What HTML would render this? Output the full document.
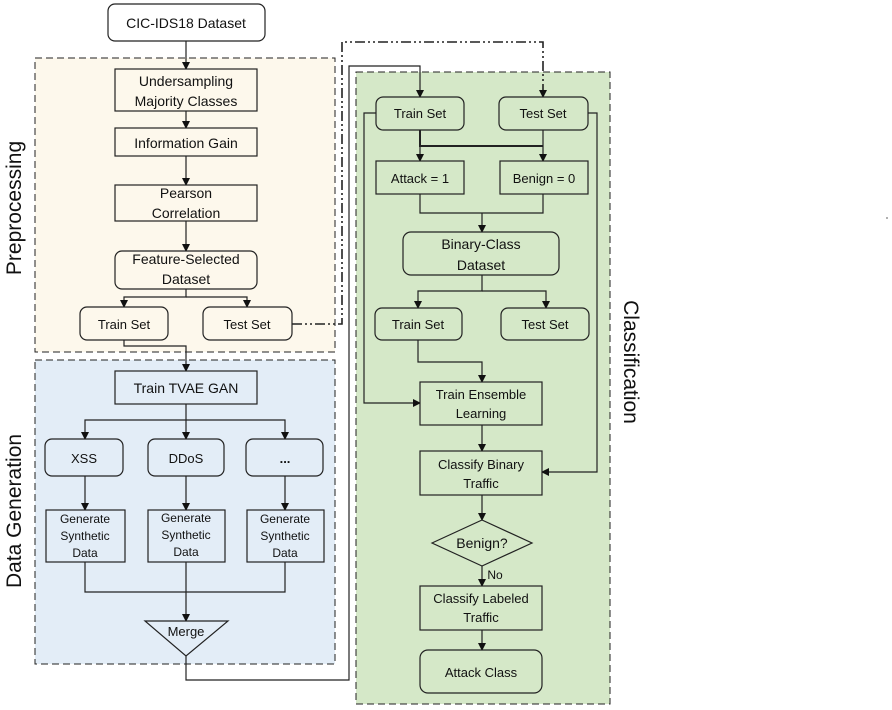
<!DOCTYPE html>
<html><head><style>body{margin:0;background:#fff}svg{display:block}text{font-family:"Liberation Sans",sans-serif;fill:#111}</style></head><body>
<svg width="892" height="710" viewBox="0 0 892 710" xmlns="http://www.w3.org/2000/svg">
<defs><marker id="a" markerWidth="8" markerHeight="8" refX="7" refY="4" orient="auto" markerUnits="userSpaceOnUse"><path d="M0,0 L8,4 L0,8z" fill="#111"/></marker></defs>
<rect x="35" y="58" width="300" height="294" fill="#fdf8ec" stroke="#222" stroke-dasharray="7,4"/>
<rect x="35" y="360" width="300" height="304" fill="#e3edf7" stroke="#222" stroke-dasharray="7,4"/>
<rect x="356" y="72" width="254" height="632" fill="#d5e8c8" stroke="#222" stroke-dasharray="7,4"/>
<circle cx="887" cy="218" r="1" fill="#999"/>
<text transform="translate(21,208) rotate(-90)" font-size="21" text-anchor="middle">Preprocessing</text>
<text transform="translate(21,511) rotate(-90)" font-size="21" text-anchor="middle">Data Generation</text>
<text transform="translate(624,362) rotate(90)" font-size="21" text-anchor="middle">Classification</text>
<g fill="none" stroke="#222" stroke-width="1.2">
<path d="M186,41V69" marker-end="url(#a)"/>
<path d="M186,111V128" marker-end="url(#a)"/>
<path d="M186,156V185" marker-end="url(#a)"/>
<path d="M186,221V251" marker-end="url(#a)"/>
<path d="M186,289V297H124V307" marker-end="url(#a)"/>
<path d="M186,297H247V307" marker-end="url(#a)"/>
<path d="M124,340V346H186V371" marker-end="url(#a)"/>
<path d="M186,404V420H85V439" marker-end="url(#a)"/>
<path d="M186,420V439" marker-end="url(#a)"/>
<path d="M186,420H285V439" marker-end="url(#a)"/>
<path d="M85,476V510" marker-end="url(#a)"/>
<path d="M186,476V510" marker-end="url(#a)"/>
<path d="M285,476V510" marker-end="url(#a)"/>
<path d="M85,562V592H285V562"/>
<path d="M186,562V621" marker-end="url(#a)"/>
<path d="M186,656V680H349V66H420V97" marker-end="url(#a)"/>
<path d="M292,324H342V42H543V97" stroke-width="1.6" stroke-dasharray="10,3,2,3,2,3" marker-end="url(#a)"/>
<path d="M420,130V146H543" stroke-width="2"/>
<path d="M420,146V161" marker-end="url(#a)"/>
<path d="M543,130V161" marker-end="url(#a)"/>
<path d="M420,194V213H543V194"/>
<path d="M482,213V232" marker-end="url(#a)"/>
<path d="M482,275V291H418V308" marker-end="url(#a)"/>
<path d="M482,291H546V308" marker-end="url(#a)"/>
<path d="M418,340V362H482V382" marker-end="url(#a)"/>
<path d="M376,113H364V403H420" marker-end="url(#a)"/>
<path d="M588,113H597V472H542" marker-end="url(#a)"/>
<path d="M482,425V451" marker-end="url(#a)"/>
<path d="M482,495V520" marker-end="url(#a)"/>
<path d="M482,566V586" marker-end="url(#a)"/>
<path d="M482,630V650" marker-end="url(#a)"/>
</g>
<g stroke="#222" stroke-width="1.2">
<rect x="108" y="4" width="157" height="37" rx="7" fill="#fff"/>
<g fill="#fdf8ec">
<rect x="115" y="69" width="142" height="42"/>
<rect x="115" y="128" width="142" height="28"/>
<rect x="115" y="185" width="142" height="36"/>
<rect x="115" y="251" width="142" height="38" rx="7"/>
<rect x="80" y="307" width="88" height="33" rx="7"/>
<rect x="203" y="307" width="89" height="33" rx="7"/>
</g>
<g fill="#e3edf7">
<rect x="115" y="371" width="142" height="33"/>
<rect x="45" y="439" width="78" height="37" rx="7"/>
<rect x="148" y="439" width="76" height="37" rx="7"/>
<rect x="246" y="439" width="77" height="37" rx="7"/>
<rect x="46" y="510" width="79" height="52"/>
<rect x="148" y="510" width="77" height="52"/>
<rect x="247" y="510" width="77" height="52"/>
<path d="M145,621H228L186,656Z"/>
</g>
<g fill="#d5e8c8">
<rect x="376" y="97" width="88" height="33" rx="7"/>
<rect x="499" y="97" width="89" height="33" rx="7"/>
<rect x="376" y="161" width="88" height="33"/>
<rect x="500" y="161" width="88" height="33"/>
<rect x="403" y="232" width="156" height="43" rx="8"/>
<rect x="375" y="308" width="87" height="32" rx="7"/>
<rect x="501" y="308" width="88" height="32" rx="7"/>
<rect x="420" y="382" width="122" height="43"/>
<rect x="420" y="451" width="122" height="44"/>
<path d="M432,543L482,520L532,543L482,566Z"/>
<rect x="420" y="586" width="122" height="44"/>
<rect x="420" y="650" width="122" height="43" rx="8"/>
</g>
</g>
<g font-size="14" text-anchor="middle">
<text x="186" y="28">CIC-IDS18 Dataset</text>
<text x="186" y="86">Undersampling</text><text x="186" y="106">Majority Classes</text>
<text x="186" y="148">Information Gain</text>
<text x="186" y="198">Pearson</text><text x="186" y="218">Correlation</text>
<text x="186" y="264">Feature-Selected</text><text x="186" y="284">Dataset</text>
<text x="124" y="329" font-size="13">Train Set</text>
<text x="247" y="329" font-size="13">Test Set</text>
<text x="186" y="393">Train TVAE GAN</text>
<text x="84" y="463" font-size="13">XSS</text>
<text x="186" y="463" font-size="13">DDoS</text>
<text x="285" y="463" font-size="13" font-weight="bold">...</text>
<g font-size="12">
<text x="85" y="523">Generate</text><text x="85" y="540">Synthetic</text><text x="85" y="557">Data</text>
<text x="186" y="522">Generate</text><text x="186" y="539">Synthetic</text><text x="186" y="556">Data</text>
<text x="285" y="523">Generate</text><text x="285" y="540">Synthetic</text><text x="285" y="557">Data</text>
</g>
<text x="186" y="636" font-size="13">Merge</text>
<g font-size="13">
<text x="420" y="118">Train Set</text>
<text x="543" y="118">Test Set</text>
<text x="420" y="183">Attack = 1</text>
<text x="544" y="183">Benign = 0</text>
<text x="481" y="249" font-size="14">Binary-Class</text><text x="481" y="270" font-size="14">Dataset</text>
<text x="418" y="329">Train Set</text>
<text x="545" y="329">Test Set</text>
<text x="481" y="399">Train Ensemble</text><text x="481" y="418">Learning</text>
<text x="481" y="469">Classify Binary</text><text x="481" y="488">Traffic</text>
<text x="482" y="548" font-size="14">Benign?</text>
<text x="495" y="579" font-size="12">No</text>
<text x="481" y="603">Classify Labeled</text><text x="481" y="622">Traffic</text>
<text x="481" y="677">Attack Class</text>
</g>
</g>
</svg>
</body></html>
